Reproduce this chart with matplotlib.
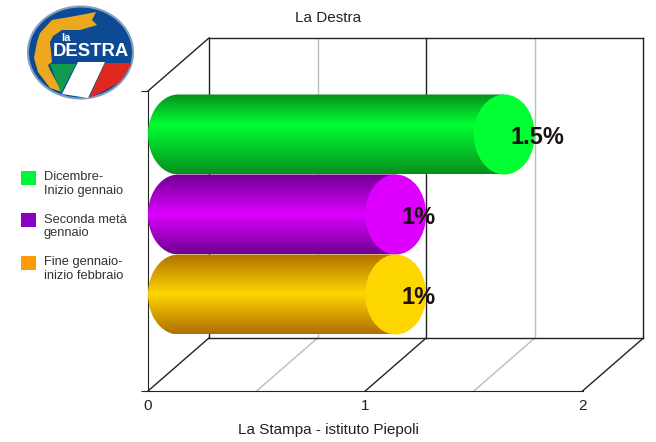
import matplotlib
matplotlib.use("Agg")
import matplotlib.pyplot as plt
import numpy as np
from matplotlib.colors import LinearSegmentedColormap
from matplotlib.patches import Ellipse, Polygon, Rectangle

plt.rcParams['font.family'] = ['Liberation Sans', 'DejaVu Sans']

# data, top bar first
periods = ["Dicembre-\nInizio gennaio", "Seconda metà\ngennaio", "Fine gennaio-\ninizio febbraio"]
values = [1.5, 1, 1]
labels = ["1.5%", "1%", "1%"]
x_ticks = [0, 1, 2]
minor_ticks = [0.5, 1.5]

# colours: (edge of the cylinder, middle of the cylinder, end cap, legend)
bar_colors = [("#078f1c", "#00ff33", "#00ff33", "#00f53a"),
              ("#6e0092", "#dd00ff", "#dd00ff", "#8a00c4"),
              ("#b06e00", "#ffd700", "#ffd700", "#ff9a0a")]
bright_at = [0.62, 0.5, 0.5]  # where the highlight sits, from the bottom of the bar

W, H = 656, 442
DEPTH_X = 61 / 217.5  # floor depth in value units
DEPTH_Y = 0.53  # floor depth in category units
BAR_H = 0.8

fig = plt.figure(figsize=(W / 100, H / 100), dpi=100)
ax = fig.add_axes([148 / W, (H - 391) / H, 434.5 / W, 300 / H])
ax.set_xlim(0, 2)
ax.set_ylim(0, 3)

# walls and floor
for x in minor_ticks:
    color = "#bdbdbd"
    ax.plot([x + DEPTH_X] * 2, [DEPTH_Y, 3 + DEPTH_Y], color=color, lw=1, clip_on=False, zorder=1)
    ax.plot([x, x + DEPTH_X], [0, DEPTH_Y], color=color, lw=1, clip_on=False, zorder=1)
for x in x_ticks:
    ax.plot([x, x + DEPTH_X], [0, DEPTH_Y], color="#222222", lw=1, clip_on=False, zorder=1)
    ax.plot([x + DEPTH_X] * 2, [DEPTH_Y, 3 + DEPTH_Y], color="#222222", lw=1, clip_on=False, zorder=1)
ax.plot([0, DEPTH_X], [3, 3 + DEPTH_Y], color="#222222", lw=1, clip_on=False, zorder=1)
ax.plot([DEPTH_X, 2 + DEPTH_X], [3 + DEPTH_Y] * 2, color="#222222", lw=1, clip_on=False, zorder=1)
ax.plot([DEPTH_X, 2 + DEPTH_X], [DEPTH_Y] * 2, color="#222222", lw=1, clip_on=False, zorder=1)

# cylinders
for i, value in enumerate(values):
    edge, middle, cap, _ = bar_colors[i]
    cy = 1.5 + (1 - i) * BAR_H + DEPTH_Y / 2
    cx = value + DEPTH_X / 2
    rx = DEPTH_X / 2
    ry = BAR_H / 2
    cmap = LinearSegmentedColormap.from_list("bar", [(0, edge), (bright_at[i], middle), (1, edge)])
    grad = np.linspace(1, 0, 128).reshape(-1, 1)
    im = ax.imshow(grad, cmap=cmap, aspect="auto", zorder=3 + i, vmin=0, vmax=1,
                   extent=(0, cx, cy - ry, cy + ry), interpolation="bilinear")
    t = np.linspace(np.pi / 2, 3 * np.pi / 2, 60)
    left = np.column_stack([rx + rx * np.cos(t), cy + ry * np.sin(t)])
    outline = np.vstack([[[cx, cy + ry]], left, [[cx, cy - ry]]])
    shape = Polygon(outline, closed=True, transform=ax.transData, fc="none", ec="none")
    ax.add_patch(shape)
    im.set_clip_path(shape)
    ax.add_patch(Ellipse((cx, cy), 2 * rx, 2 * ry, fc=cap, ec="none", zorder=3 + i))
    ax.text(cx + 0.027, cy - 0.03, labels[i], fontsize=17, fontweight="bold", color="#1c1010",
            ha="left", va="center", zorder=10)
ax.set_xlim(0, 2)
ax.set_ylim(0, 3)

ax.patch.set_visible(False)
for side in ["top", "right"]:
    ax.spines[side].set_visible(False)
ax.spines["left"].set_color("#222222")
ax.spines["bottom"].set_color("#222222")
ax.set_xticks(x_ticks)
ax.set_yticks([0, 3])
ax.set_yticklabels([])
ax.tick_params(axis="x", length=0, pad=6, labelsize=11, colors="#222222")
ax.tick_params(axis="y", length=5, color="#222222")

fig.text(328 / W, 1 - 430 / H, "La Stampa - istituto Piepoli", fontsize=11, color="#222222",
         ha="center", va="center")
fig.text(328 / W, 1 - 17.5 / H, "La Destra", fontsize=11, color="#222222", ha="center", va="center")

# overlay in pixels for the legend and the logo
over = fig.add_axes([0, 0, 1, 1], zorder=20)
over.set_xlim(0, W)
over.set_ylim(H, 0)
over.axis("off")

legend_y = [177.5, 220, 262.5]
for i, period in enumerate(periods):
    over.add_patch(Rectangle((20.5, legend_y[i] - 7), 15.5, 14, fc=bar_colors[i][3], ec="none"))
    over.text(44, legend_y[i] + 6.5, period, fontsize=9.3, color="#333333", va="center", ha="left",
              linespacing=1.12)

# logo
disc = Ellipse((80.5, 52.5), 105, 92, fc="#0d4a94", ec="#7f9fc0", lw=1.5)
over.add_patch(disc)
logo_parts = [
    ([(40, 33), (52, 20), (75, 16), (96, 12), (92, 20), (97, 25), (80, 30), (62, 30), (53, 36),
      (50, 42), (52, 62), (48, 65), (50, 70), (62, 92), (50, 88), (38, 72), (34, 58), (37, 42)], "#eda81e"),
    ([(50, 64), (76, 64), (61, 93)], "#0f9a50"),
    ([(78, 62), (105, 62), (88, 98), (62, 94)], "#ffffff"),
    ([(105, 63), (132, 63), (120, 82), (100, 93), (89, 98)], "#e0281e"),
]
for points, color in logo_parts:
    part = Polygon(points, closed=True, fc=color, ec="none")
    over.add_patch(part)
    part.set_clip_path(disc)
over.text(90.5, 51, "DESTRA", fontsize=13.3, fontweight="bold", color="white", ha="center", va="center")
over.text(66, 38, "la", fontsize=8, fontweight="bold", color="white", ha="center", va="center")

fig.savefig("out.png", dpi=100)
